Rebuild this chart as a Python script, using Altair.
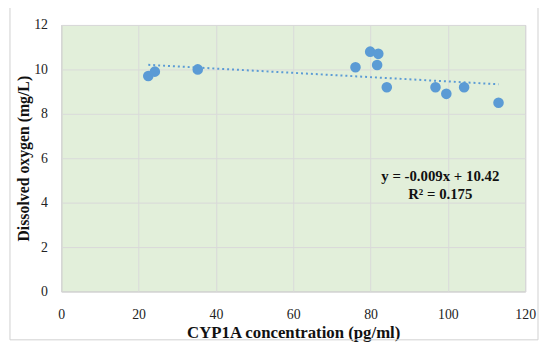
import altair as alt
import pandas as pd

cyp1a = [22.5, 24.2, 35.3, 76.1, 79.9, 82.0, 81.7, 84.2, 96.8, 99.6, 104.2, 113.1]
dissolved_o2 = [9.7, 9.9, 10.0, 10.1, 10.8, 10.7, 10.2, 9.2, 9.2, 8.9, 9.2, 8.5]
x_ticks = [0, 20, 40, 60, 80, 100, 120]
y_ticks = [0, 2, 4, 6, 8, 10, 12]
equation_lines = ["y = -0.009x + 10.42", "R² = 0.175"]

df = pd.DataFrame({"x": cyp1a, "y": dissolved_o2})

FONT = "Liberation Serif"
xs = alt.Scale(domain=[0, 120], nice=False, zero=False)
ys = alt.Scale(domain=[0, 12], nice=False, zero=False)

base = alt.Chart(df)

points = base.mark_circle(size=115, color="#5B9BD5", opacity=1).encode(
    x=alt.X("x:Q", scale=xs,
            axis=alt.Axis(values=x_ticks, title="CYP1A concentration (pg/ml)",
                          grid=True, gridColor="#D9D9D9", domain=False, ticks=False,
                          labelFlush=False, labelBound=False,
                          labelPadding=16, labelFont=FONT, labelFontSize=14,
                          labelColor="#222222", titleFont=FONT, titleFontSize=17,
                          titleFontWeight="bold", titleColor="#111111", titlePadding=4)),
    y=alt.Y("y:Q", scale=ys,
            axis=alt.Axis(values=y_ticks, title="Dissolved oxygen (mg/L)",
                          grid=True, gridColor="#D9D9D9", domain=False, ticks=False,
                          labelFlush=False, labelBound=False,
                          labelPadding=14, labelFont=FONT, labelFontSize=14,
                          labelColor="#222222", titleFont=FONT, titleFontSize=16,
                          titleFontWeight="bold", titleColor="#111111",
                          titleX=-38, titleY=135, titleBaseline="middle",
                          titleAlign="center", titleAngle=270)),
)

trend = base.transform_regression("x", "y", method="linear").mark_line(
    color="#5B9BD5", strokeDash=[2, 3], strokeWidth=2
).encode(x=alt.X("x:Q", scale=xs), y=alt.Y("y:Q", scale=ys))

eq1 = alt.Chart(pd.DataFrame({"t": [equation_lines[0]]})).mark_text(
    font=FONT, fontSize=15, fontWeight="bold", color="#111111", align="center"
).encode(text="t:N", x=alt.value(384), y=alt.value(153))
eq2 = alt.Chart(pd.DataFrame({"t": [equation_lines[1]]})).mark_text(
    font=FONT, fontSize=15, fontWeight="bold", color="#111111", align="center"
).encode(text="t:N", x=alt.value(384), y=alt.value(171))

border = alt.Chart(pd.DataFrame({"a": [0]})).mark_rect(
    fill=None, stroke="#D0D0D0", strokeWidth=1, clip=False
).encode(x=alt.value(-52), x2=alt.value(483), y=alt.value(-20), y2=alt.value(319))

chart = alt.layer(trend, points, eq1, eq2, border).properties(
    width=470, height=270,
    background="white",
    autosize=alt.AutoSizeParams(type="none"),
    padding={"left": 54, "top": 15, "right": 14, "bottom": 51},
).configure_view(fill="#E2EFDA", stroke="#BFBFBF", strokeWidth=1)

chart.save("out.html", embed_options={"renderer": "svg", "actions": False})
